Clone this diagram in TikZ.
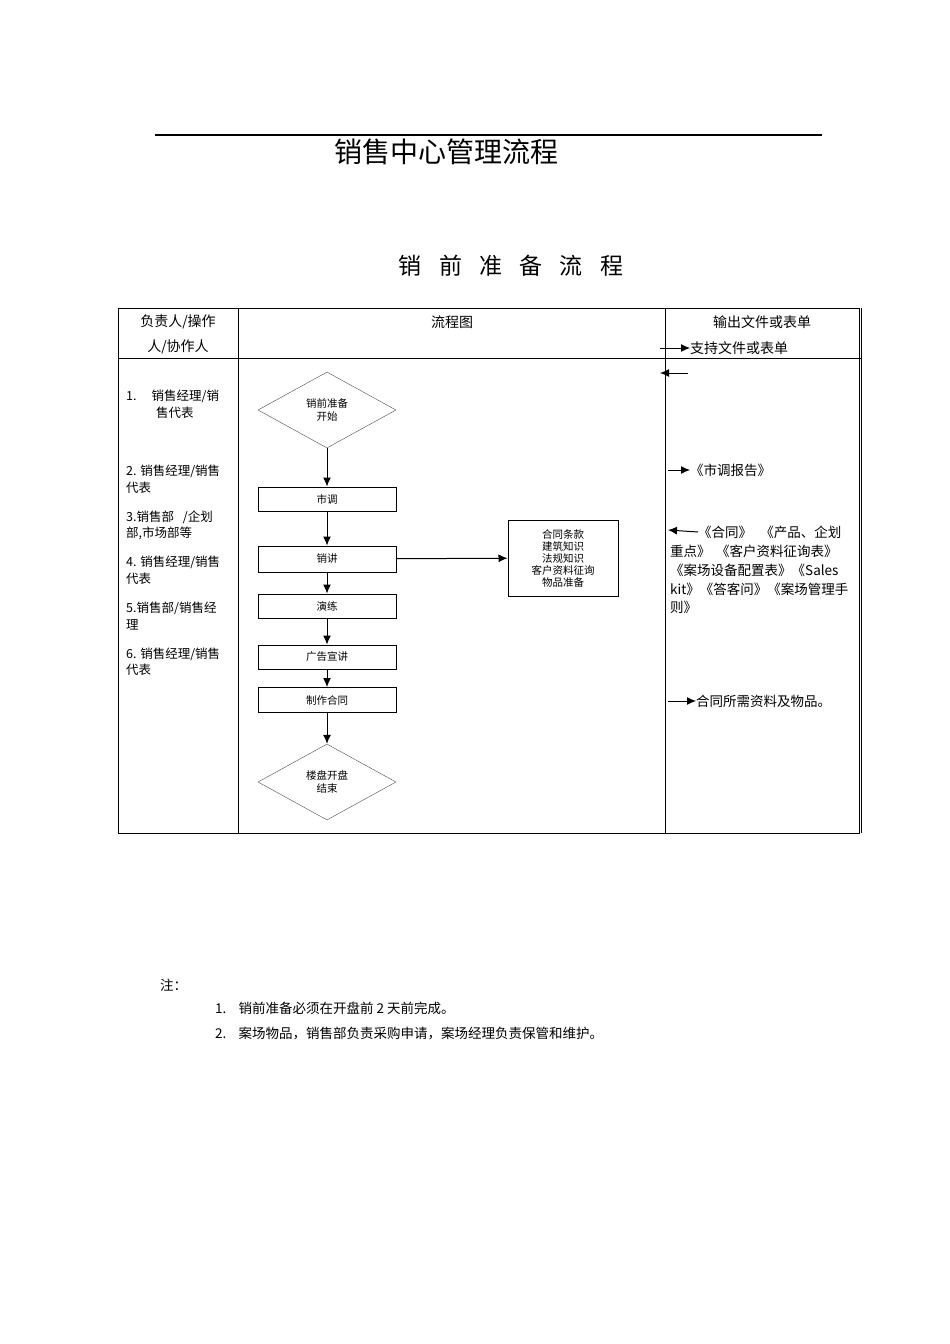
\documentclass[tikz,border=0pt]{standalone}
\usepackage{fontspec}
\setmainfont{Noto Sans CJK SC}
\usetikzlibrary{shapes.geometric,arrows.meta}
\begin{document}
\begin{tikzpicture}[x=1pt,y=-1pt,
  box/.style={draw,line width=1pt,minimum width=138pt,inner sep=0pt,font=\fontsize{10.5}{12}\selectfont},
  dia/.style={draw,diamond,aspect=1.8,minimum width=138pt,minimum height=76pt,inner sep=0pt,font=\fontsize{10.5}{12.5}\selectfont,align=center,color=black!70,text=black},
  arr/.style={-{Latex[length=9pt,width=8pt]},line width=1pt},
  lt/.style={anchor=west,font=\fontsize{12.5}{14}\selectfont,inner sep=0pt},
  rt/.style={anchor=west,font=\fontsize{13.5}{15}\selectfont,inner sep=0pt}]
\useasboundingbox (0,0) rectangle (950,1344);
\draw[line width=2.5pt] (155,135) -- (822,135);
\node (title) at (446,152) {\fontsize{28}{30}\selectfont 销售中心管理流程};
\node (sub) at (511,266) {\fontsize{23}{25}\selectfont 销\hspace{0.75em}前\hspace{0.75em}准\hspace{0.75em}备\hspace{0.75em}流\hspace{0.75em}程};
% table
\draw (118,308) rectangle (859,833);
\draw (861,308) -- (861,833);
\draw (238,308) -- (238,833);
\draw (665,308) -- (665,833);
\draw (118,358) -- (861,358);
\node (h1) at (178,322) {\fontsize{14}{16}\selectfont 负责人/操作};
\node (h2) at (178,347) {\fontsize{14}{16}\selectfont 人/协作人};
\node (h3) at (452,322) {\fontsize{14}{16}\selectfont 流程图};
\node (h4) at (762,322) {\fontsize{14}{16}\selectfont 输出文件或表单};
\node[rt,font=\fontsize{14}{16}\selectfont] (h5) at (690,348) {支持文件或表单};
\coordinate (a0) at (660,348);
\draw[arr] (a0) -- (h5.west);
\coordinate (b0) at (688,373); \coordinate (b1) at (660,373);
\draw[arr] (b0) -- (b1);
% left column
\node[lt] (l1a) at (126,396) {1.\hspace{1.2em}销售经理/销};
\node[lt] (l1b) at (156,413) {售代表};
\node[lt] (l2a) at (126,471) {2. 销售经理/销售};
\node[lt] (l2b) at (126,488) {代表};
\node[lt] (l3a) at (126,517) {3.销售部\hspace{0.7em}/企划};
\node[lt] (l3b) at (126,533) {部,市场部等};
\node[lt] (l4a) at (126,562) {4. 销售经理/销售};
\node[lt] (l4b) at (126,579) {代表};
\node[lt] (l5a) at (126,608) {5.销售部/销售经};
\node[lt] (l5b) at (126,625) {理};
\node[lt] (l6a) at (126,654) {6. 销售经理/销售};
\node[lt] (l6b) at (126,670) {代表};
% flow
\node[dia] (d1) at (327,410) {销前准备\\开始};
\node[box,minimum height=24pt] (n1) at (327,499) {市调};
\node[box,minimum height=26pt] (n2) at (327,559) {销讲};
\node[box,minimum height=24pt] (n3) at (327,606) {演练};
\node[box,minimum height=24pt] (n4) at (327,657) {广告宣讲};
\node[box,minimum height=25pt] (n5) at (327,700) {制作合同};
\node[dia] (d2) at (327,782) {楼盘开盘\\结束};
\node[draw,line width=1pt,minimum width=110pt,minimum height=76pt,align=center,font=\fontsize{10.5}{12}\selectfont,inner sep=0pt] (r1) at (563,558) {合同条款\\建筑知识\\法规知识\\客户资料征询\\物品准备};
\draw[arr] (d1) -- (n1);
\draw[arr] (n1) -- (n2);
\draw[arr] (n2) -- (n3);
\draw[arr] (n3) -- (n4);
\draw[arr] (n4) -- (n5);
\draw[arr] (n5) -- (d2);
\draw[arr] (n2) -- (r1);
% right column
\node[rt] (o1) at (690,470) {《市调报告》};
\coordinate (c0) at (668,470);
\draw[arr] (c0) -- (o1.west);
\node[rt] (o2) at (698,532) {《合同》\hspace{0.6em}《产品、企划};
\node[rt] (o3) at (670,551) {重点》\hspace{0.4em}《客户资料征询表》};
\node[rt] (o4) at (670,570) {《案场设备配置表》《Sales};
\node[rt] (o5) at (670,589) {kit》《答客问》《案场管理手};
\node[rt] (o6) at (670,607) {则》};
\coordinate (e0) at (668,530);
\draw[arr] (o2.west) -- (e0);
\node[rt] (o7) at (696,701) {合同所需资料及物品。};
\coordinate (f0) at (668,701);
\draw[arr] (f0) -- (o7.west);
% notes
\node[rt] (z0) at (160,985) {注：};
\node[rt] (z1) at (215,1008) {1.\hspace{0.9em}销前准备必须在开盘前 2 天前完成。};
\node[rt] (z2) at (215,1033) {2.\hspace{0.9em}案场物品，销售部负责采购申请，案场经理负责保管和维护。};
\end{tikzpicture}
\end{document}
